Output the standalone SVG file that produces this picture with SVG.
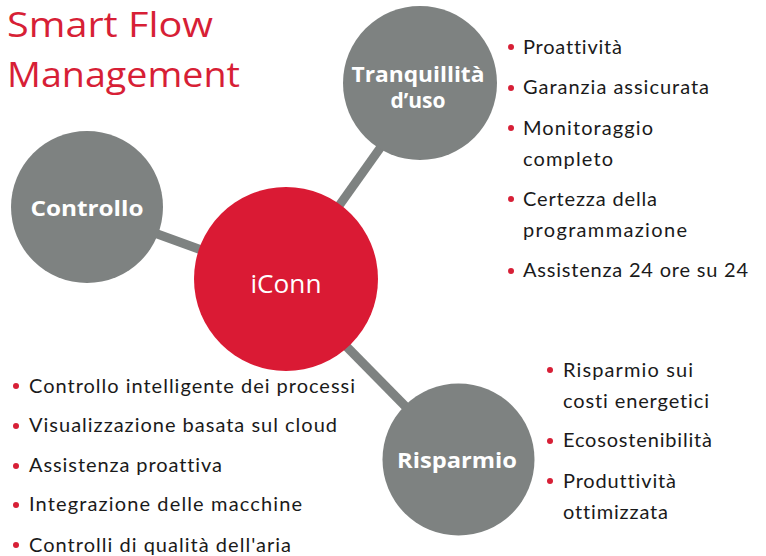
<svg xmlns="http://www.w3.org/2000/svg" width="766" height="556" viewBox="0 0 766 556">
<style>
.title{font-family:"Open Sans","Liberation Sans",sans-serif;font-size:34px;fill:#d71f36;font-weight:400}
.conn{stroke:#7e8281;stroke-width:9;stroke-linecap:butt;fill:none}
.gray{fill:#7e8281}
.red{fill:#da1a34}
.lbl{font-family:"Open Sans","Liberation Sans",sans-serif;font-weight:700;fill:#ffffff;text-anchor:middle}
.center{font-family:"Open Sans","Liberation Sans",sans-serif;font-weight:400;fill:#ffffff;text-anchor:middle;font-size:26px}
.li{font-family:"Lato","Noto Sans","Liberation Sans",sans-serif;font-size:20px;fill:#1a1a1a;font-variant-ligatures:none}
.dot{fill:#d71f36}
</style>
<g id="title">
<text class="title" x="7" y="37" textLength="206" lengthAdjust="spacingAndGlyphs">Smart Flow</text>
<text class="title" x="7" y="87" textLength="233" lengthAdjust="spacingAndGlyphs">Management</text>
</g>
<g id="connectors">
<line class="conn" x1="156" y1="233.5" x2="200" y2="249.5"/>
<line class="conn" x1="383" y1="144" x2="336" y2="210"/>
<line class="conn" x1="345" y1="345" x2="407" y2="408"/>
</g>
<g id="node-controllo">
<circle class="gray" cx="87" cy="207" r="76"/>
<text class="lbl" x="87" y="216" font-size="22" textLength="113" lengthAdjust="spacingAndGlyphs">Controllo</text>
</g>
<g id="node-iconn">
<circle class="red" cx="286" cy="279" r="92"/>
<text class="center" x="286" y="293" textLength="71" lengthAdjust="spacingAndGlyphs">iConn</text>
</g>
<g id="node-tranquillita">
<circle class="gray" cx="420" cy="83" r="77"/>
<text class="lbl" x="418" y="82" font-size="21" textLength="133" lengthAdjust="spacingAndGlyphs">Tranquillità</text>
<text class="lbl" x="418" y="108" font-size="21">d’uso</text>
</g>
<g id="node-risparmio">
<circle class="gray" cx="458.5" cy="459.5" r="76"/>
<text class="lbl" x="457" y="468" font-size="22" textLength="120" lengthAdjust="spacingAndGlyphs">Risparmio</text>
</g>
<g id="list-tranquillita">
<circle class="dot" cx="511" cy="47" r="3"/>
<text class="li" x="523" y="54" textLength="99">Proattività</text>
<circle class="dot" cx="511" cy="88" r="3"/>
<text class="li" x="523" y="94" textLength="186">Garanzia assicurata</text>
<circle class="dot" cx="511" cy="128" r="3"/>
<text class="li" x="523" y="135" textLength="130">Monitoraggio</text>
<text class="li" x="523" y="166" textLength="90">completo</text>
<circle class="dot" cx="511" cy="199" r="3"/>
<text class="li" x="523" y="206" textLength="134">Certezza della</text>
<text class="li" x="523" y="237" textLength="164">programmazione</text>
<circle class="dot" cx="511" cy="271" r="3"/>
<text class="li" x="523" y="277" textLength="225">Assistenza 24 ore su 24</text>
</g>
<g id="list-controllo">
<circle class="dot" cx="16" cy="386" r="3"/>
<text class="li" x="29" y="393" textLength="326">Controllo intelligente dei processi</text>
<circle class="dot" cx="16" cy="426" r="3"/>
<text class="li" x="29" y="432" textLength="308">Visualizzazione basata sul cloud</text>
<circle class="dot" cx="16" cy="466" r="3"/>
<text class="li" x="29" y="472" textLength="193">Assistenza proattiva</text>
<circle class="dot" cx="16" cy="505" r="3"/>
<text class="li" x="29" y="511" textLength="273">Integrazione delle macchine</text>
<circle class="dot" cx="16" cy="545" r="3"/>
<text class="li" x="29" y="552" textLength="262">Controlli di qualità dell'aria</text>
</g>
<g id="list-risparmio">
<circle class="dot" cx="550" cy="370" r="3"/>
<text class="li" x="563" y="377" textLength="130">Risparmio sui</text>
<text class="li" x="563" y="408" textLength="146">costi energetici</text>
<circle class="dot" cx="550" cy="441" r="3"/>
<text class="li" x="563" y="447" textLength="149">Ecosostenibilità</text>
<circle class="dot" cx="550" cy="481" r="3"/>
<text class="li" x="563" y="488" textLength="113">Produttività</text>
<text class="li" x="563" y="519" textLength="105">ottimizzata</text>
</g>
</svg>
